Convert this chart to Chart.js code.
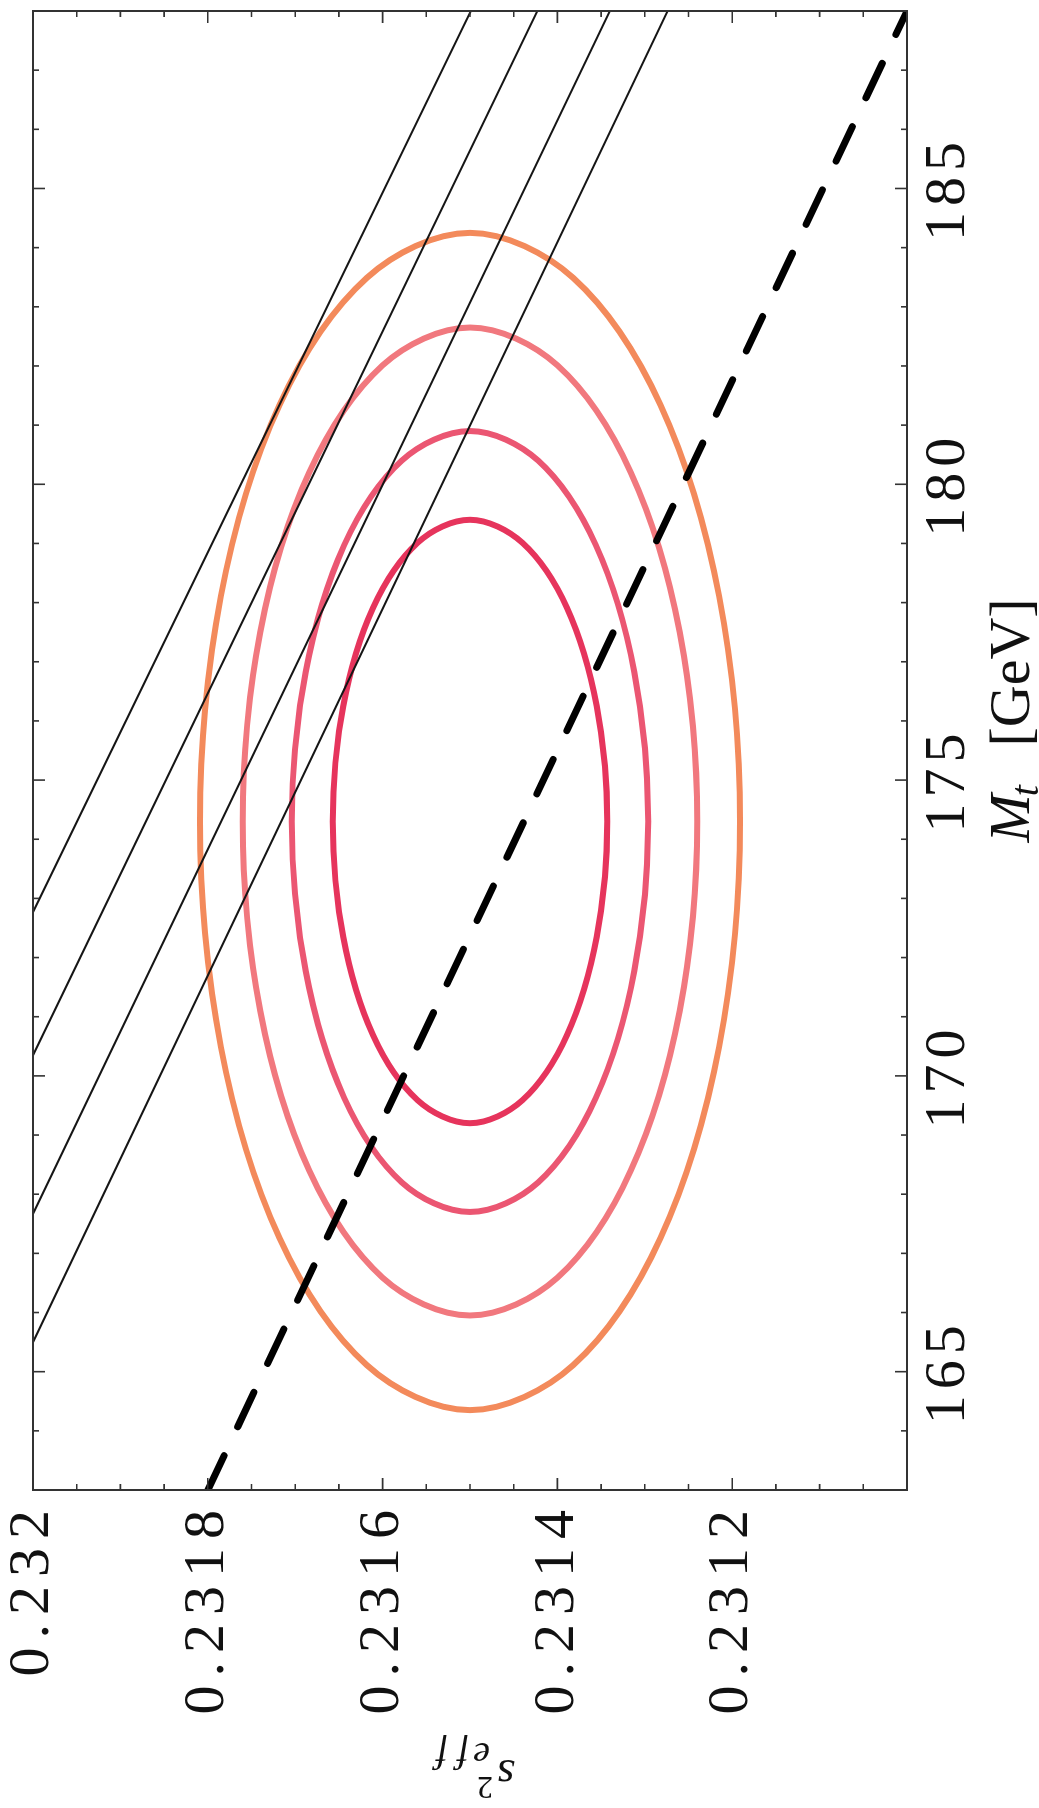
<!DOCTYPE html>
<html><head><meta charset="utf-8">
<script src="https://cdn.jsdelivr.net/npm/chart.js@4.4.1/dist/chart.umd.min.js"></script>
<style>
html,body{margin:0;padding:0;background:#fff;}
body{width:1039px;height:1808px;overflow:hidden;position:relative;}
#wrap{position:absolute;left:0;top:0;width:1808px;height:1039px;transform-origin:0 0;transform:translateY(1808px) rotate(-90deg);background:#fff;}
canvas{display:block;}
</style></head><body>
<div id="wrap"><canvas id="c" width="1808" height="1039" style="width:1808px;height:1039px"></canvas></div>
<script>
// ---- axis ticks / labels ----
const mtTicks = [165, 170, 175, 180, 185];
const mtLabels = ['165', '170', '175', '180', '185'];
const s2Ticks = [0.2312, 0.2314, 0.2316, 0.2318, 0.2320];
const s2Labels = ['0.2312', '0.2314', '0.2316', '0.2318', '0.232'];
const mtMinor = [164,166,167,168,169,171,172,173,174,176,177,178,179,181,182,183,184,186,187];
const s2Minor = [0.23105,0.2311,0.23115,0.23125,0.2313,0.23135,0.23145,0.2315,0.23155,0.23165,0.2317,0.23175,0.23185,0.2319,0.23195];

// ---- contour ellipses (M_t, s2_eff) ----
const c1Mt = [174.30,176.25,177.91,179.01,179.40,179.01,177.91,176.25,174.30,172.35,170.69,169.59,169.20,169.59,170.69,172.35];
const c1S2 = [0.231657,0.231645,0.231611,0.231560,0.231500,0.231440,0.231389,0.231355,0.231343,0.231355,0.231389,0.231440,0.231500,0.231560,0.231611,0.231645];
const c2Mt = [174.30,176.83,178.97,180.40,180.90,180.40,178.97,176.83,174.30,171.77,169.63,168.20,167.70,168.20,169.63,171.77];
const c2S2 = [0.231704,0.231688,0.231644,0.231578,0.231500,0.231422,0.231356,0.231312,0.231296,0.231312,0.231356,0.231422,0.231500,0.231578,0.231644,0.231688];
const c3Mt = [174.30,177.50,180.20,182.01,182.65,182.01,180.20,177.50,174.30,171.10,168.40,166.59,165.95,166.59,168.40,171.10];
const c3S2 = [0.231760,0.231740,0.231684,0.231600,0.231500,0.231400,0.231316,0.231260,0.231240,0.231260,0.231316,0.231400,0.231500,0.231600,0.231684,0.231740];
const c4Mt = [174.30,178.11,181.34,183.49,184.25,183.49,181.34,178.11,174.30,170.49,167.26,165.11,164.35,165.11,167.26,170.49];
const c4S2 = [0.231809,0.231785,0.231718,0.231618,0.231500,0.231382,0.231282,0.231215,0.231191,0.231215,0.231282,0.231382,0.231500,0.231618,0.231718,0.231785];

// ---- thin black lines: start at s2=0.2320, end at M_t=188 ----
const lineMtStart = [172.77, 170.35, 167.67, 165.50];
const lineS2Start = [0.2320, 0.2320, 0.2320, 0.2320];
const lineMtEnd = [188, 188, 188, 188];
const lineS2End = [0.231499, 0.231423, 0.231340, 0.231274];

// ---- dashed line ----
const dashMt = [163, 188];
const dashS2 = [0.2318, 0.2310];

const contourColors = ['#E6345C', '#EB5672', '#F1787E', '#F38A5B'];

function pts(mt, s2) { return mt.map((m, i) => ({x: m, y: s2[i]})); }

const datasets = [];
for (let i = 0; i < lineMtStart.length; i++) {
  datasets.push({
    data: [{x: lineMtStart[i], y: lineS2Start[i]}, {x: lineMtEnd[i], y: lineS2End[i]}],
    showLine: true, borderColor: '#151515', borderWidth: 2, pointRadius: 0, tension: 0
  });
}
datasets.push({
  data: pts(dashMt, dashS2), showLine: true, borderColor: '#000', borderWidth: 7,
  borderDash: [38, 32], borderCapStyle: 'round', pointRadius: 0, tension: 0
});
[[c1Mt, c1S2], [c2Mt, c2S2], [c3Mt, c3S2], [c4Mt, c4S2]].forEach((c, i) => {
  datasets.push({
    data: pts(c[0], c[1]), closed: true, showLine: true, borderColor: contourColors[i], borderWidth: 6,
    pointRadius: 0, tension: 0.34, borderJoinStyle: 'round'
  });
});

// close the contour lines into smooth loops
const loopPlugin = {
  id: 'loopLines',
  afterDatasetUpdate(chart, args) {
    const ds = chart.data.datasets[args.index];
    if (!ds || !ds.closed) return;
    const line = args.meta.dataset;
    if (!line) return;
    line._loop = true; line._fullLoop = true;
    line._pointsUpdated = false;
    delete line._path; delete line._segments;
    if (line.updateControlPoints) line.updateControlPoints(chart.chartArea, 'x');
  }
};

function spacedLabels(spacing) {
  return function (s) {
    if (!s._spacedWrap) {
      const orig = s.drawLabels;
      s.drawLabels = function (area) {
        const ctx = this.ctx;
        ctx.save();
        try { ctx.letterSpacing = spacing + 'px'; } catch (e) {}
        orig.call(this, area);
        ctx.restore();
      };
      s._spacedWrap = true;
    }
  };
}
const wrapX = spacedLabels(6);
const wrapY = spacedLabels(9);

const framePlugin = {
  id: 'frame',
  afterDatasetsDraw(chart) {
    const {ctx, chartArea: a, scales: {x, y}} = chart;
    ctx.save();
    ctx.strokeStyle = '#333'; ctx.lineWidth = 2;
    ctx.strokeRect(a.left, a.top, a.right - a.left, a.bottom - a.top);
    ctx.lineWidth = 1.6;
    ctx.beginPath();
    const tickX = (v, len) => { const p = x.getPixelForValue(v); ctx.moveTo(p, a.bottom); ctx.lineTo(p, a.bottom - len); ctx.moveTo(p, a.top); ctx.lineTo(p, a.top + len); };
    const tickY = (v, len) => { const p = y.getPixelForValue(v); ctx.moveTo(a.left, p); ctx.lineTo(a.left + len, p); ctx.moveTo(a.right, p); ctx.lineTo(a.right - len, p); };
    mtTicks.forEach(v => tickX(v, 12)); mtMinor.forEach(v => tickX(v, 6));
    s2Ticks.forEach(v => tickY(v, 12)); s2Minor.forEach(v => tickY(v, 6));
    ctx.stroke();
    ctx.restore();
  },
  afterDraw(chart) {
    const {ctx, chartArea: a} = chart;
    ctx.save();
    ctx.fillStyle = '#111';
    ctx.textBaseline = 'alphabetic';
    ctx.textAlign = 'left';
    // x title: M_t [GeV]
    const cxm = (a.left + a.right) / 2;
    const base = 1029;
    ctx.font = 'italic 58px "Liberation Serif"';
    ctx.fillText('M', cxm - 92, base);
    const wM = ctx.measureText('M').width;
    ctx.font = 'italic 40px "Liberation Serif"';
    ctx.fillText('t', cxm - 92 + wM - 2, base + 9);
    ctx.font = '58px "Liberation Serif"';
    ctx.fillText('[GeV]', cxm + 4, base);
    // y title: s^2_eff (rotated)
    ctx.translate(48, 515);
    ctx.rotate(-Math.PI / 2);
    ctx.font = 'italic 46px "Liberation Serif"';
    ctx.fillText('s', 0, 0);
    ctx.font = '32px "Liberation Serif"';
    ctx.fillText('2', 22, -17);
    ctx.font = 'italic 38px "Liberation Serif"';
    ctx.fillText('e', 25, 17);
    ctx.fillText('f', 47, 17);
    ctx.fillText('f', 68, 17);
    ctx.restore();
  }
};

new Chart(document.getElementById('c'), {
  type: 'scatter',
  data: {datasets},
  options: {
    responsive: false,
    animation: false,
    events: [],
    layout: {padding: {left: 0, right: 11, top: 33, bottom: 0}},
    plugins: {legend: {display: false}, tooltip: {enabled: false}},
    scales: {
      x: {
        type: 'linear', position: 'bottom', min: 163, max: 188,
        grid: {display: false}, border: {display: false},
        afterBuildTicks: s => { s.ticks = mtTicks.map(v => ({value: v})); },
        afterFit: s => { s.height = 132; s.paddingLeft = 0; s.paddingRight = 0; wrapX(s); },
        ticks: {
          autoSkip: false, maxRotation: 0, padding: 5, color: '#111',
          font: {family: '"Liberation Serif"', size: 58, lineHeight: 1},
          callback: (v, i) => mtLabels[i]
        }
      },
      y: {
        type: 'linear', position: 'left', min: 0.2310, max: 0.2320,
        grid: {display: false}, border: {display: false},
        afterBuildTicks: s => { s.ticks = s2Ticks.map(v => ({value: v})); },
        afterFit: s => { s.width = 318; s.paddingTop = 0; s.paddingBottom = 0; wrapY(s); },
        ticks: {
          autoSkip: false, padding: 3, color: '#111',
          font: {family: '"Liberation Serif"', size: 58, lineHeight: 1},
          callback: (v, i) => s2Labels[i]
        }
      }
    }
  },
  plugins: [loopPlugin, framePlugin]
});
</script>
</body></html>
